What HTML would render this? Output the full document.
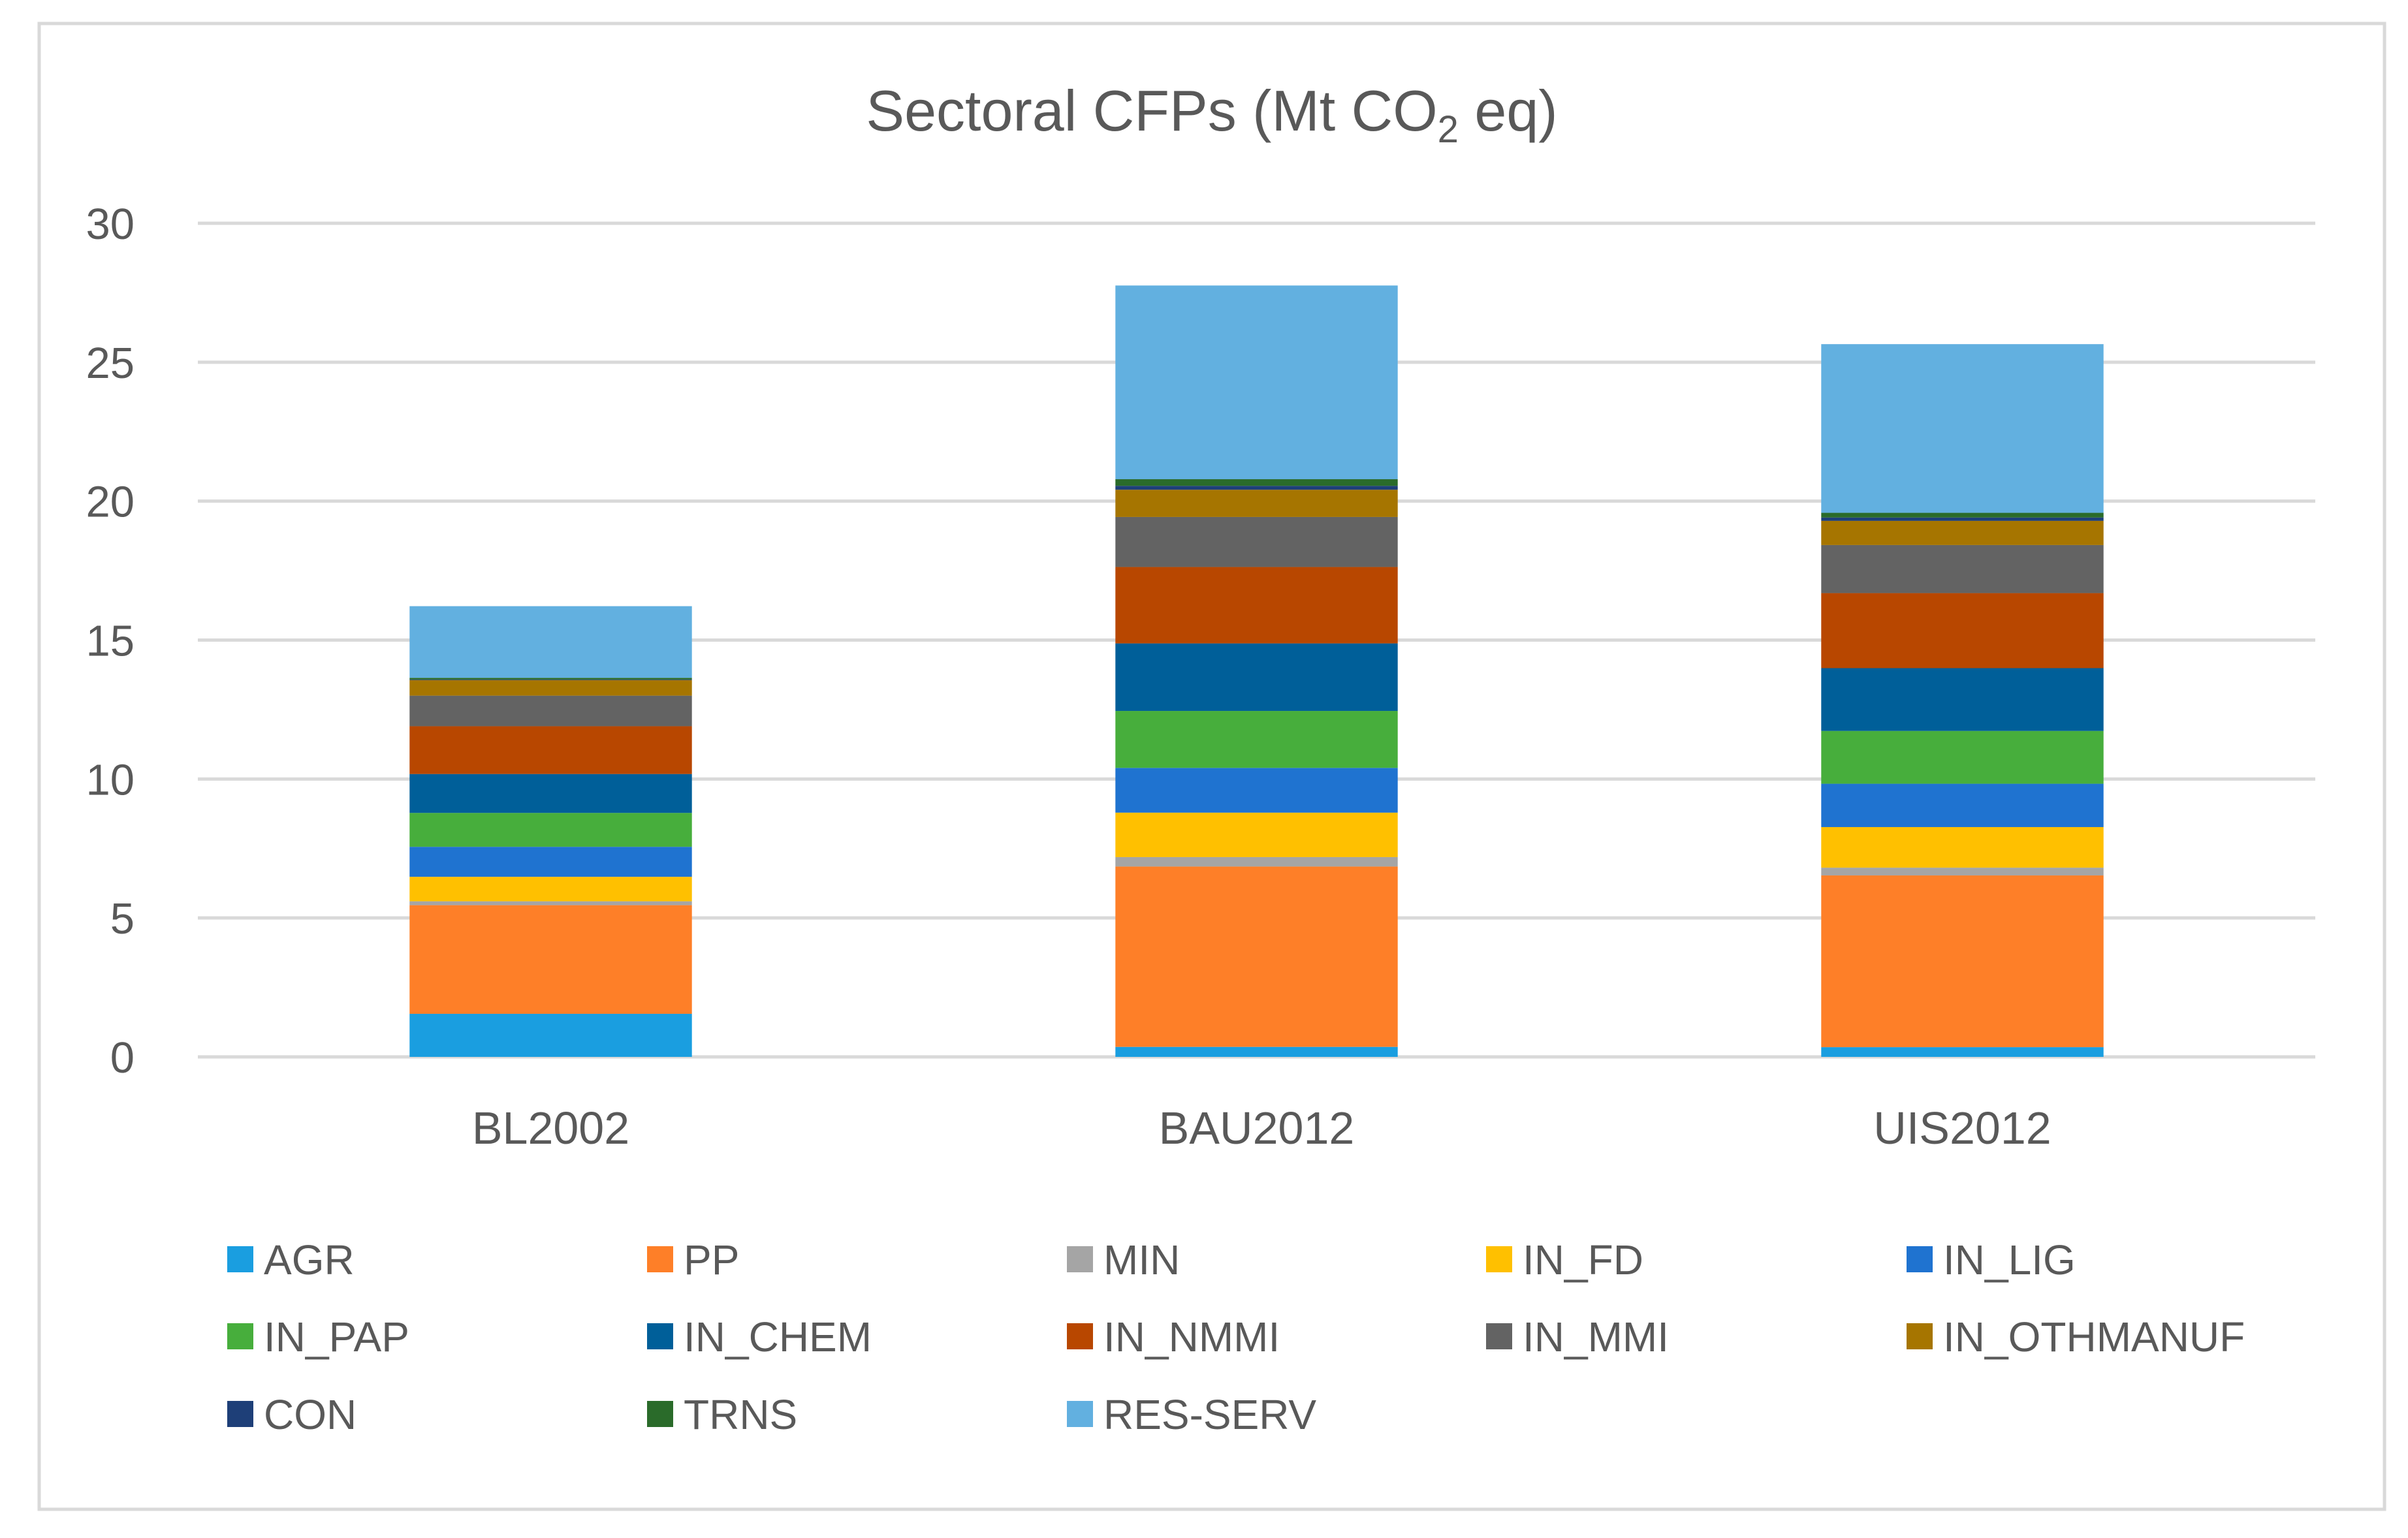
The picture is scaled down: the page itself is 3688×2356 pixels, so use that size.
<!DOCTYPE html>
<html><head><meta charset="utf-8">
<style>
html,body{margin:0;padding:0;background:#fff;}
body{width:3688px;height:2351px;overflow:hidden;font-family:"Liberation Sans",sans-serif;}
svg text{font-family:"Liberation Sans",sans-serif;fill:#595959;}
</style></head>
<body>
<svg id="chart" width="3688" height="2351" viewBox="0 0 3688 2351" xmlns="http://www.w3.org/2000/svg">
<rect x="60" y="36" width="3592" height="2276" fill="#fff" stroke="#d9d9d9" stroke-width="5"/>
<text x="1856" y="200" font-size="88" text-anchor="middle">Sectoral CFPs (Mt CO<tspan font-size="58" dy="18">2</tspan><tspan dy="-18"> eq)</tspan></text>
<g id="grid"></g>
<g id="bars"></g>
<g id="legend"></g>
</svg>
<script>
const categories = ["BL2002","BAU2012","UIS2012"];
const series = ["AGR","PP","MIN","IN_FD","IN_LIG","IN_PAP","IN_CHEM","IN_NMMI","IN_MMI","IN_OTHMANUF","CON","TRNS","RES-SERV"];
const colors = ["#1a9ee0","#fe7f28","#a5a5a5","#ffc000","#1f73d0","#47ae3c","#005f99","#b84700","#636363","#a67500","#1e3f78","#2a6b2a","#62b0e0"];
const valBL2002 = [1.55,3.91,0.14,0.88,1.08,1.22,1.40,1.72,1.10,0.56,0.02,0.06,2.58];
const valBAU2012 = [0.36,6.49,0.34,1.60,1.61,2.05,2.43,2.75,1.80,0.98,0.14,0.24,6.97];
const valUIS2012 = [0.35,6.18,0.28,1.46,1.56,1.90,2.26,2.70,1.73,0.87,0.12,0.17,6.07];
const yTicks = [0,5,10,15,20,25,30];
const values = [valBL2002, valBAU2012, valUIS2012];

const NS = "http://www.w3.org/2000/svg";
const plotL = 303, plotR = 3546, y0px = 1619, y30px = 342, yMax = 30;
const yScale = v => y0px - (v / yMax) * (y0px - y30px);
const band = (plotR - plotL) / categories.length;
const xCenter = i => plotL + band * (i + 0.5);
const barW = band * 0.4;

function mk(tag, attrs, parent){
  const e = document.createElementNS(NS, tag);
  for (const k in attrs) e.setAttribute(k, attrs[k]);
  parent.appendChild(e);
  return e;
}
const grid = document.getElementById('grid');
yTicks.forEach(t => {
  const ln = mk('line', {x1: plotL, x2: plotR, y1: yScale(t), y2: yScale(t), stroke: '#d9d9d9', 'stroke-width': 5}, grid);
  
  
  const tx = mk('text', {x: 206, y: yScale(t) + 24, 'font-size': 67, 'text-anchor': 'end'}, grid);
  tx.textContent = t;
  
  
});
const bars = document.getElementById('bars');
categories.forEach((c, i) => {
  let acc = 0;
  values[i].forEach((v, j) => {
    const yt = yScale(acc + v), yb = yScale(acc);
    const r = mk('rect', {x: xCenter(i) - barW / 2, y: yt, width: barW, height: Math.max(0, yb - yt), fill: colors[j]}, bars);
    
    
    acc += v;
  });
  const lbl = mk('text', {x: xCenter(i), y: 1752, 'font-size': 70, 'text-anchor': 'middle'}, bars);
  lbl.textContent = c;
  
  
});
const legend = document.getElementById('legend');
const colX = [348, 991, 1634, 2276, 2920];
const rowY = [1929, 2047, 2166];
series.forEach((s, j) => {
  const cx = colX[j % 5], cy = rowY[Math.floor(j / 5)];
  const g = mk('g', {}, legend);
  
  
  const m = mk('rect', {x: cx, y: cy - 20, width: 40, height: 40, fill: colors[j]}, g);
  
  
  const t = mk('text', {x: cx + 56, y: cy + 23, 'font-size': 64}, g);
  t.textContent = s;
  
  
});
</script>
</body></html>
